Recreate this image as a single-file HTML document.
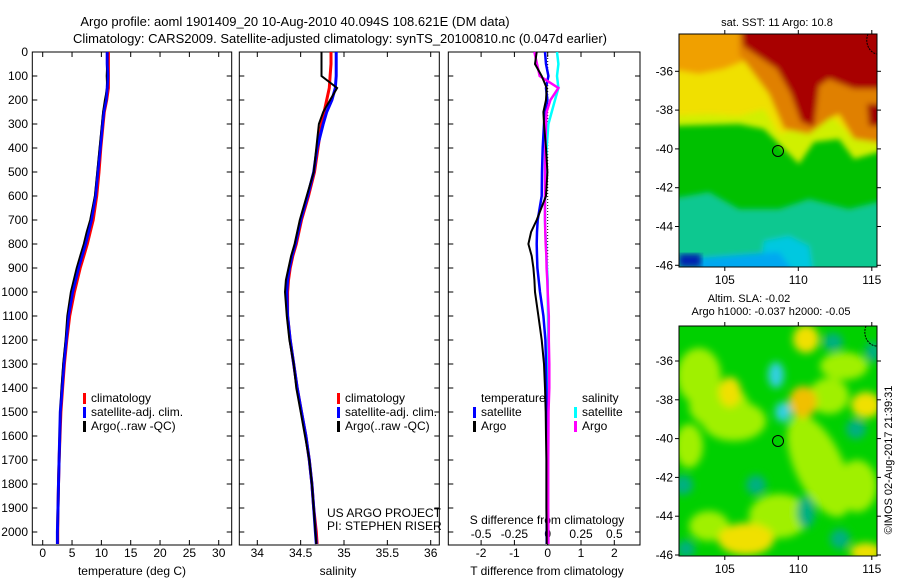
<!DOCTYPE html>
<html><head><meta charset="utf-8"><style>
body{margin:0;background:#fff;}
svg{display:block;font-family:"Liberation Sans",sans-serif;}
</style></head><body>
<svg id="fig" width="900" height="580" viewBox="0 0 900 580">
<defs>
<filter id="bl" x="-10%" y="-10%" width="120%" height="120%"><feGaussianBlur stdDeviation="3"/></filter>
<filter id="bl2" x="-30%" y="-30%" width="160%" height="160%"><feGaussianBlur stdDeviation="4"/></filter>
<clipPath id="c1"><rect x="679" y="34" width="198" height="233"/></clipPath>
<clipPath id="c2"><rect x="679" y="326" width="198" height="230"/></clipPath>
</defs>
<text x="295" y="26" font-size="13" text-anchor="middle">Argo profile: aoml 1901409_20 10-Aug-2010 40.094S 108.621E (DM data)</text>
<text x="340" y="43" font-size="13" text-anchor="middle">Climatology: CARS2009. Satellite-adjusted climatology: synTS_20100810.nc (0.047d earlier)</text>

<g id="sst-map">
<g clip-path="url(#c1)">
<rect x="679" y="34" width="198" height="233" fill="#00c000"/>
<g transform="translate(679,34)" filter="url(#bl)">
<polygon points="-10,165 30,158 60,175 100,175 130,165 170,175 210,165 210,245 -10,245" fill="#10c890"/>
<polygon points="85,207 110,202 130,212 135,245 80,245" fill="#00c8e0"/>
<polygon points="20,224 100,218 120,245 20,245" fill="#00a8f0"/>
<polygon points="-10,-10 210,-10 210,115 175,125 160,105 135,108 120,130 100,110 85,95 60,90 -10,92" fill="#d0f000"/>
<polygon points="-10,-10 210,-10 210,105 172,102 150,80 130,92 100,100 85,75 60,82 30,80 -10,82" fill="#f0e000"/>
<polygon points="-10,-10 70,-10 70,25 45,35 20,40 -10,35" fill="#f0a000"/>
<polygon points="60,-10 210,-10 210,110 175,105 160,80 150,85 130,100 105,95 90,60 75,40 60,20" fill="#e08000"/>
<polygon points="62,-10 210,-10 210,55 175,55 150,45 140,52 135,93 122,88 112,60 98,35 64,12" fill="#a80000"/>
<polygon points="188,70 210,70 210,92 190,92" fill="#a00000"/>
</g>
<rect x="679" y="254" width="22" height="13" fill="#0020b0" filter="url(#bl)"/>
<path d="M868,34 A12,14 0 0 0 877,54" fill="none" stroke="#000" stroke-dasharray="2,1"/>
</g>
<rect x="679" y="34" width="198" height="233" fill="none" stroke="#000"/>
<circle cx="778" cy="151" r="5.5" fill="none" stroke="#000"/>
<text x="777" y="26" font-size="11" text-anchor="middle">sat. SST: 11 Argo: 10.8</text>
</g>

<g id="sla-map">
<g clip-path="url(#c2)">
<rect x="679" y="326" width="198" height="230" fill="#00d000"/>
<g transform="translate(679,326)" filter="url(#bl2)">
<ellipse cx="20" cy="50" rx="22" ry="28" fill="#a0f000"/>
<ellipse cx="55" cy="95" rx="32" ry="20" fill="#a0f000"/>
<ellipse cx="40" cy="80" rx="30" ry="22" fill="#a0f000"/>
<ellipse cx="140" cy="140" rx="24" ry="55" fill="#a0f000" transform="rotate(-25 140 140)"/>
<ellipse cx="100" cy="190" rx="30" ry="22" fill="#a0f000"/>
<ellipse cx="165" cy="40" rx="24" ry="14" fill="#a0f000"/>
<ellipse cx="10" cy="120" rx="14" ry="22" fill="#a0f000"/>
<ellipse cx="178" cy="160" rx="20" ry="26" fill="#a0f000"/>
<ellipse cx="150" cy="70" rx="20" ry="18" fill="#a0f000"/>
<ellipse cx="30" cy="200" rx="20" ry="15" fill="#a0f000"/>
<ellipse cx="51" cy="66" rx="11" ry="15" fill="#f0e000"/>
<ellipse cx="127" cy="13" rx="13" ry="14" fill="#f0e000"/>
<ellipse cx="187" cy="79" rx="15" ry="13" fill="#f0e000"/>
<ellipse cx="67" cy="213" rx="28" ry="16" fill="#f0e000"/>
<ellipse cx="187" cy="226" rx="16" ry="9" fill="#f0e000"/>
<ellipse cx="124" cy="76" rx="14" ry="16" fill="#f0c000"/>
<ellipse cx="97" cy="49" rx="8" ry="13" fill="#30d0e0"/>
<ellipse cx="104" cy="86" rx="8" ry="10" fill="#30d0e0"/>
<ellipse cx="154" cy="16" rx="10" ry="9" fill="#00b080"/>
<ellipse cx="77" cy="159" rx="10" ry="10" fill="#00b080"/>
<ellipse cx="4" cy="159" rx="10" ry="10" fill="#00b080"/>
<ellipse cx="127" cy="186" rx="9" ry="16" fill="#00b080"/>
<ellipse cx="161" cy="213" rx="10" ry="10" fill="#00b080"/>
<ellipse cx="194" cy="26" rx="8" ry="10" fill="#00b080"/>
<ellipse cx="7" cy="223" rx="9" ry="9" fill="#00b080"/>
<ellipse cx="177" cy="103" rx="10" ry="10" fill="#00b080"/>
</g>
<path d="M866,326 A12,14 0 0 0 877,346" fill="none" stroke="#000" stroke-dasharray="2,1"/>
</g>
<rect x="679" y="326" width="198" height="230" fill="none" stroke="#000"/>
<circle cx="778" cy="441" r="5.5" fill="none" stroke="#000"/>
<text x="749" y="302" font-size="11" text-anchor="middle">Altim. SLA: -0.02</text>
<text x="771" y="315" font-size="11" text-anchor="middle">Argo h1000: -0.037 h2000: -0.05</text>
</g>
<text transform="translate(892,460) rotate(-90)" font-size="11" text-anchor="middle">©IMOS 02-Aug-2017 21:39:31</text>
<g id="dyn"></g>
</svg>
<script>
// depth levels (m)
const depths=[0,50,100,150,200,250,300,400,500,600,700,750,800,850,900,950,1000,1100,1200,1300,1400,1500,1600,1700,1800,1900,2000,2050];
// temperature (deg C)
const tArgo=[11,11,10.9,11,10.6,10.3,10.1,9.7,9.3,8.9,8.1,7.5,7.0,6.4,5.8,5.3,4.8,4.2,3.9,3.5,3.2,3.0,2.9,2.8,2.7,2.6,2.5,2.5];
const tClim=[11.2,11.2,11.2,11.2,10.9,10.5,10.3,9.9,9.6,9.2,8.6,8.1,7.6,7.0,6.4,5.9,5.4,4.6,4.1,3.7,3.4,3.1,2.95,2.8,2.7,2.6,2.55,2.55];
const tSat=[11,11,11.1,11,10.8,10.4,10.2,9.8,9.4,9.0,8.3,7.8,7.3,6.7,6.1,5.6,5.1,4.4,4.0,3.6,3.3,3.0,2.9,2.8,2.7,2.6,2.5,2.5];
// salinity
const sArgo=[34.74,34.74,34.74,34.92,34.84,34.76,34.71,34.68,34.65,34.57,34.49,34.46,34.43,34.39,34.36,34.33,34.32,34.34,34.37,34.42,34.45,34.50,34.55,34.60,34.63,34.65,34.67,34.68];
const sClim=[34.85,34.85,34.84,34.83,34.80,34.77,34.74,34.70,34.66,34.59,34.51,34.48,34.45,34.41,34.38,34.36,34.35,34.35,34.38,34.42,34.46,34.51,34.56,34.60,34.63,34.65,34.68,34.69];
const sSat=[34.91,34.91,34.91,34.90,34.86,34.80,34.76,34.69,34.65,34.58,34.50,34.47,34.44,34.40,34.37,34.35,34.34,34.35,34.38,34.42,34.46,34.51,34.56,34.60,34.63,34.65,34.67,34.68];
// differences from climatology
const dtSat=[-0.08,-0.05,0.02,-0.05,-0.01,-0.08,-0.11,-0.15,-0.17,-0.18,-0.3,-0.32,-0.33,-0.32,-0.31,-0.27,-0.23,-0.13,-0.07,-0.05,-0.04,-0.03,-0.03,-0.03,-0.03,-0.03,-0.03,-0.03];
const dtArgo=[-0.33,-0.38,-0.18,-0.03,-0.05,-0.13,-0.11,-0.05,-0.01,-0.05,-0.33,-0.5,-0.58,-0.48,-0.43,-0.40,-0.38,-0.28,-0.18,-0.11,-0.08,-0.06,-0.05,-0.04,-0.04,-0.04,-0.03,-0.03];
const dsSat=[0.07,0.08,0.07,0.08,0.055,0.03,0.005,-0.008,-0.013,-0.02,-0.02,-0.018,-0.013,-0.01,-0.005,0,0,0.002,0.003,0.002,0,0,0,0,0,0,0,0];
const dsArgo=[-0.1,-0.08,-0.06,0.08,0.02,-0.008,-0.013,-0.018,-0.02,-0.02,-0.02,-0.018,-0.015,-0.01,-0.008,-0.003,0,0.008,0.008,0.012,0.012,0.006,0.005,0.004,0.004,0.004,0.005,0.005];
const depthTicks=[0,100,200,300,400,500,600,700,800,900,1000,1100,1200,1300,1400,1500,1600,1700,1800,1900,2000];
const tTicks=[0,5,10,15,20,25,30];
const sTicks=[34,34.5,35,35.5,36];
const dtTicks=[-2,-1,0,1,2];
const dsTicks=[-0.5,-0.25,0,0.25,0.5];
const lonTicks=[105,110,115];
const latTicks=[-36,-38,-40,-42,-44,-46];

const NS='http://www.w3.org/2000/svg';
const root=document.getElementById('dyn');
function el(tag,attrs,parent,txt){const e=document.createElementNS(NS,tag);for(const k in attrs)e.setAttribute(k,attrs[k]);if(txt!==undefined)e.textContent=txt;(parent||root).appendChild(e);return e;}
const Y=d=>52+d*0.24;
const tX=t=>42.7+t*5.867;
const sX=s=>257.3+(s-34)*86.7;
const dX=t=>547.7+t*33.3;
const dsX=s=>547.7+s*133.3;
const PT=52,PB=545;

function panel(name,x0,x1){
  const g=el('g',{});
  
  
  el('rect',{x:x0,y:PT,width:x1-x0,height:PB-PT,fill:'none',stroke:'#000'},g);
  depthTicks.forEach(d=>{el('line',{x1:x0,x2:x0+5,y1:Y(d),y2:Y(d),stroke:'#000'},g);el('line',{x1:x1-5,x2:x1,y1:Y(d),y2:Y(d),stroke:'#000'},g);});
  return g;
}
function xticks(g,ticks,fx,labY){
  ticks.forEach(v=>{const x=fx(v);
    el('line',{x1:x,x2:x,y1:PT,y2:PT+5,stroke:'#000'},g);
    el('line',{x1:x,x2:x,y1:PB-5,y2:PB,stroke:'#000'},g);
    const t=el('text',{x:x,y:labY,'font-size':12,'text-anchor':'middle'},g,String(v));
    
    
  });
}
function line(g,xs,fx,color,name,w){
  const pts=depths.map((d,i)=>fx(xs[i]).toFixed(1)+','+Y(d).toFixed(1)).join(' ');
  const p=el('polyline',{points:pts,fill:'none',stroke:color,'stroke-width':w||2.5},g);
  
  
}
function legend(g,x,y,items){
  items.forEach((it,i)=>{
    if(it[1])el('rect',{x:x,y:y+i*14-9,width:3,height:11,fill:it[1]},g);
    const t=el('text',{x:x+8,y:y+i*14,'font-size':12},g,it[0]);
    
    
  });
}

// Panel 1: temperature
const p1=panel('temperature-panel',32.3,231.7);
depthTicks.forEach(d=>{const t=el('text',{x:28,y:Y(d)+4,'font-size':12,'text-anchor':'end'},p1,String(d));

});
xticks(p1,tTicks,tX,557);
el('text',{x:132,y:575,'font-size':12,'text-anchor':'middle',},p1,'temperature (deg C)');
line(p1,tClim,tX,'#ff0000','temp-climatology-line',3);
line(p1,tSat,tX,'#0000ff','temp-satellite-line',3);
line(p1,tArgo,tX,'#000000','temp-argo-line',2);
line(p1,tSat,tX,'#0000ff','temp-satellite-line-top',2);
legend(p1,83,402,[['climatology','#f00'],['satellite-adj. clim.','#00f'],['Argo(..raw -QC)','#000']]);

// Panel 2: salinity
const p2=panel('salinity-panel',239.3,439.3);
xticks(p2,sTicks,sX,557);
el('text',{x:338,y:575,'font-size':12,'text-anchor':'middle',},p2,'salinity');
line(p2,sClim,sX,'#ff0000','sal-climatology-line',3);
line(p2,sSat,sX,'#0000ff','sal-satellite-line',3);
line(p2,sArgo,sX,'#000000','sal-argo-line',2);
legend(p2,337,402,[['climatology','#f00'],['satellite-adj. clim.','#00f'],['Argo(..raw -QC)','#000']]);
el('text',{x:327,y:517,'font-size':12,},p2,'US ARGO PROJECT');
el('text',{x:327,y:530,'font-size':12,},p2,'PI: STEPHEN RISER');

// Panel 3: differences
const p3=panel('difference-panel',448.3,640);
xticks(p3,dtTicks,dX,557);
dsTicks.forEach(v=>{const t=el('text',{x:dsX(v),y:538,'font-size':12,'text-anchor':'middle'},p3,String(v));

});
el('text',{x:547,y:524,'font-size':12,'text-anchor':'middle',},p3,'S difference from climatology');
el('text',{x:547,y:575,'font-size':12,'text-anchor':'middle',},p3,'T difference from climatology');
el('line',{x1:dX(0),x2:dX(0),y1:PT,y2:PB,stroke:'#000','stroke-dasharray':'1,2'},p3);
line(p3,dsSat,dsX,'#00ffff','s-diff-satellite-line',2.5);
line(p3,dtSat,dX,'#0000ff','t-diff-satellite-line',2.5);
line(p3,dsArgo,dsX,'#ff00ff','s-diff-argo-line',2.5);
line(p3,dtArgo,dX,'#000000','t-diff-argo-line',2);
legend(p3,473,402,[['temperature',null],['satellite','#00f'],['Argo','#000']]);
legend(p3,574,402,[['salinity',null],['satellite','#0ff'],['Argo','#f0f']]);

// map axes
const lonX=l=>680.7+(l-102)*14.7;
[[34,267,'sst'],[326,556,'sla']].forEach(([top,bot,nm],k)=>{
  const g=el('g',{});
  
  
  const latY=k===0?(l=>71.3+(-36-l)*19.4):(l=>361+(-36-l)*19.4);
  lonTicks.forEach(l=>{const x=lonX(l);
    el('line',{x1:x,x2:x,y1:top-4,y2:top,stroke:'#000'},g);el('line',{x1:x,x2:x,y1:bot,y2:bot+4,stroke:'#000'},g);
    el('text',{x:x,y:bot+17,'font-size':12,'text-anchor':'middle'},g,String(l));});
  latTicks.forEach(l=>{const y=latY(l);
    el('line',{x1:675,x2:679,y1:y,y2:y,stroke:'#000'},g);el('line',{x1:877,x2:881,y1:y,y2:y,stroke:'#000'},g);
    el('text',{x:673,y:y+4,'font-size':12,'text-anchor':'end'},g,String(l));});
});
</script>
</body></html>
